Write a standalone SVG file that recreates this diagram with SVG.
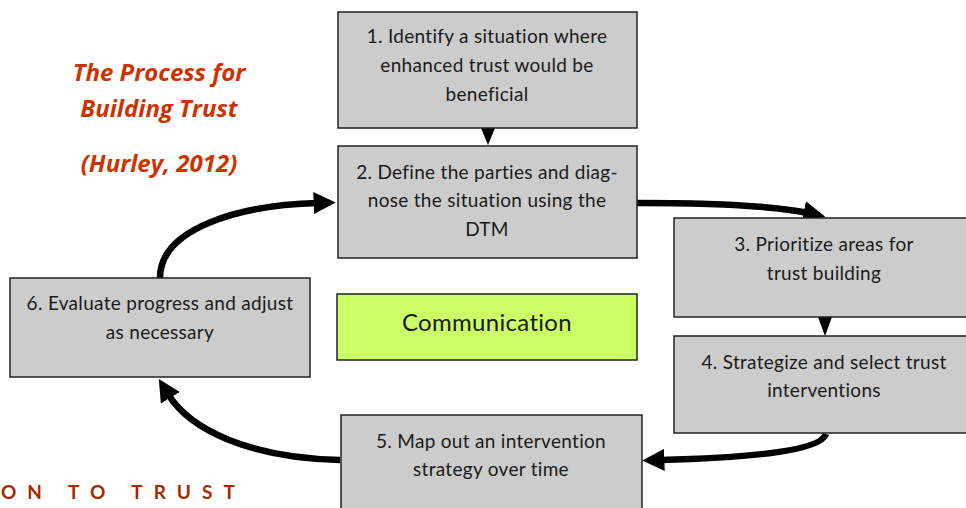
<svg xmlns="http://www.w3.org/2000/svg" width="966" height="508" viewBox="0 0 966 508">
<defs>
<style>
.box{fill:#cccccc;stroke:#222;stroke-width:1.5}
.comm{fill:#ccff66;stroke:#222;stroke-width:1.5}
.t{font-family:Lato,"Liberation Sans",sans-serif;font-size:19px;letter-spacing:0.3px;fill:#1a1a1a;text-anchor:middle}
.title{font-family:"Open Sans","Liberation Sans",sans-serif;font-size:24px;font-weight:bold;font-style:italic;fill:#cc3300;text-anchor:middle}
.conn{fill:none;stroke:#000;stroke-width:6.5}
</style>
<marker id="ah" viewBox="0 0 10 10" refX="2" refY="5" markerWidth="3.4" markerHeight="3.4" orient="auto" markerUnits="strokeWidth">
<path d="M0,0 L10,5 L0,10 Z" fill="#000"/>
</marker>
</defs>
<rect width="966" height="508" fill="#fff"/>
<g id="title">
<text class="title" x="159" y="81">The Process for</text>
<text class="title" x="159" y="117">Building Trust</text>
<text class="title" x="159" y="172">(Hurley, 2012)</text>
</g>
<g id="footer">
<text x="1" y="499" font-family="Lato,'Liberation Sans',sans-serif" font-size="19" font-weight="bold" fill="#a52a00" letter-spacing="11">ON TO TRUST</text>
</g>
<g id="connectors">
<path d="M488,128 L481,128 L488,145 L495,128 Z" fill="#000"/>
<path d="M825,317 L818,317 L825,336 L832,317 Z" fill="#000"/>
<path class="conn" d="M160,278 C160,228 240,205 318,203" marker-end="url(#ah)"/>
<path class="conn" d="M637,203 C710,203 770,205 808,213" marker-end="url(#ah)"/>
<path class="conn" d="M826,434 C820,452 740,458 660,460" marker-end="url(#ah)"/>
<path class="conn" d="M340,460 C250,458 190,430 168,394" marker-end="url(#ah)"/>
</g>
<g id="n1">
<rect class="box" x="338" y="12" width="299" height="116"/>
<text class="t" x="487" y="43">1. Identify a situation where</text>
<text class="t" x="487" y="72">enhanced trust would be</text>
<text class="t" x="487" y="101">beneficial</text>
</g>
<g id="n2">
<rect class="box" x="338" y="146" width="299" height="112"/>
<text class="t" x="487" y="179">2. Define the parties and diag-</text>
<text class="t" x="487" y="207">nose the situation using the</text>
<text class="t" x="487" y="236">DTM</text>
</g>
<g id="n3">
<rect class="box" x="674" y="218" width="300" height="99"/>
<text class="t" x="824" y="251">3. Prioritize areas for</text>
<text class="t" x="824" y="280">trust building</text>
</g>
<g id="n4">
<rect class="box" x="674" y="336" width="300" height="97"/>
<text class="t" x="824" y="369">4. Strategize and select trust</text>
<text class="t" x="824" y="397">interventions</text>
</g>
<g id="n5">
<rect class="box" x="341" y="415" width="301" height="100"/>
<text class="t" x="491" y="448">5. Map out an intervention</text>
<text class="t" x="491" y="476">strategy over time</text>
</g>
<g id="n6">
<rect class="box" x="10" y="278" width="300" height="99"/>
<text class="t" x="160" y="310">6. Evaluate progress and adjust</text>
<text class="t" x="160" y="339">as necessary</text>
</g>
<g id="comm">
<rect class="comm" x="337" y="294" width="300" height="66"/>
<text class="t" x="487" y="331" style="font-size:24px">Communication</text>
</g>
</svg>
